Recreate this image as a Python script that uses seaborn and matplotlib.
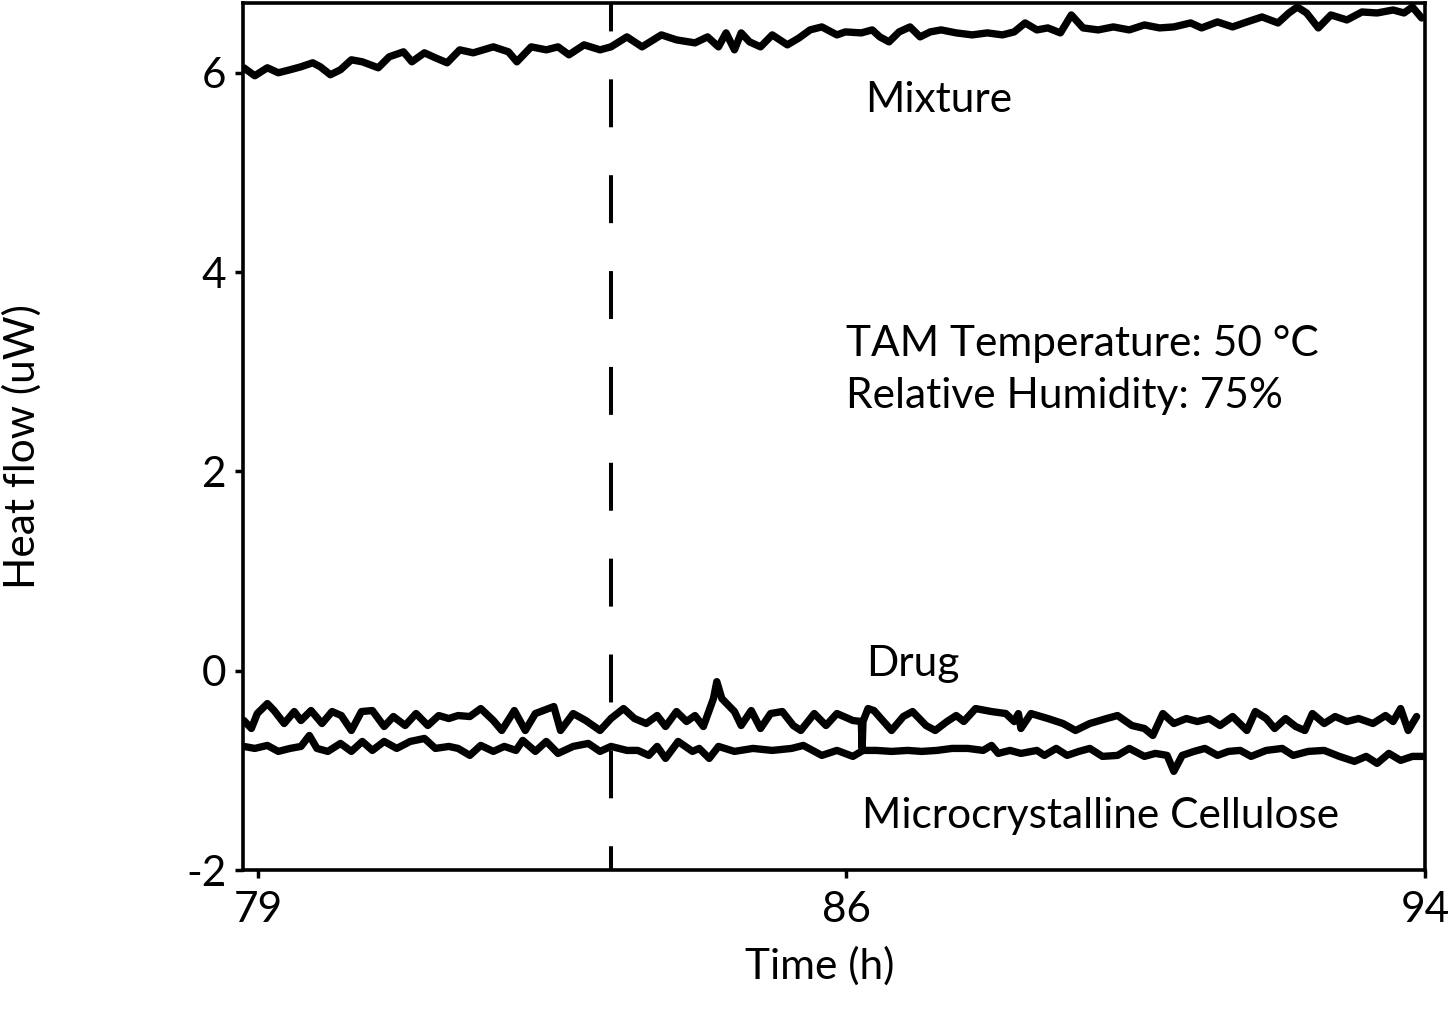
import matplotlib
matplotlib.use("Agg")
import matplotlib.pyplot as plt
import seaborn as sns
import pandas as pd

# ---------------- data ----------------
mix_t = [78.83, 78.96, 79.11, 79.24, 79.38, 79.51, 79.65, 79.74, 79.86, 79.98,
         80.11, 80.24, 80.43, 80.56, 80.73, 80.83, 80.98, 81.11, 81.25, 81.40,
         81.56, 81.80, 81.98, 82.08, 82.25, 82.43, 82.57, 82.70, 82.88, 83.07,
         83.20, 83.39, 83.57, 83.80, 83.98, 84.20, 84.35, 84.48, 84.57, 84.67,
         84.75, 84.85, 84.98, 85.12, 85.30, 85.44, 85.57, 85.71, 85.89, 85.99,
         86.18, 86.31, 86.40, 86.51, 86.63, 86.76, 86.88, 87.00, 87.13, 87.31,
         87.50, 87.68, 87.86, 88.00, 88.13, 88.27, 88.40, 88.55, 88.68, 88.82,
         89.00, 89.18, 89.37, 89.55, 89.73, 89.90, 90.10, 90.23, 90.42, 90.60,
         90.77, 90.95, 91.14, 91.27, 91.37, 91.48, 91.62, 91.77, 91.96, 92.14,
         92.32, 92.51, 92.64, 92.74, 92.85]
mix_v = [6.05, 5.97, 6.05, 6.00, 6.03, 6.06, 6.10, 6.06, 5.98, 6.03,
         6.13, 6.11, 6.05, 6.16, 6.21, 6.11, 6.20, 6.15, 6.10, 6.23,
         6.20, 6.26, 6.21, 6.11, 6.26, 6.23, 6.26, 6.18, 6.28, 6.23,
         6.26, 6.36, 6.26, 6.38, 6.33, 6.30, 6.36, 6.26, 6.40, 6.23,
         6.40, 6.31, 6.26, 6.38, 6.28, 6.35, 6.43, 6.46, 6.38, 6.41,
         6.40, 6.43, 6.36, 6.31, 6.41, 6.46, 6.36, 6.41, 6.43, 6.40,
         6.38, 6.40, 6.38, 6.41, 6.50, 6.43, 6.45, 6.40, 6.58, 6.45,
         6.43, 6.46, 6.43, 6.48, 6.45, 6.46, 6.50, 6.45, 6.51, 6.46,
         6.51, 6.56, 6.50, 6.60, 6.66, 6.60, 6.45, 6.58, 6.53, 6.61,
         6.60, 6.63, 6.60, 6.66, 6.55]

drug_t = [78.83, 78.92, 78.99, 79.11, 79.19, 79.31, 79.43, 79.51, 79.63, 79.76,
          79.88, 79.99, 80.11, 80.23, 80.36, 80.50, 80.61, 80.75, 80.88, 81.02,
          81.15, 81.27, 81.38, 81.52, 81.65, 81.80, 81.90, 82.05, 82.18, 82.30,
          82.52, 82.60, 82.75, 82.90, 83.07, 83.20, 83.35, 83.48, 83.62, 83.75,
          83.85, 83.98, 84.10, 84.20, 84.30, 84.42, 84.46, 84.52, 84.67, 84.75,
          84.87, 84.98, 85.10, 85.24, 85.37, 85.46, 85.62, 85.76, 85.89, 86.08,
          86.18, 86.19, 86.20, 86.26, 86.33, 86.54, 86.68, 86.79, 86.95, 87.06,
          87.20, 87.31, 87.40, 87.54, 87.73, 87.90, 88.00, 88.05, 88.08, 88.20,
          88.40, 88.58, 88.73, 88.90, 89.10, 89.23, 89.40, 89.55, 89.65, 89.77,
          89.90, 90.05, 90.18, 90.32, 90.45, 90.60, 90.77, 90.87, 91.00, 91.10,
          91.23, 91.35, 91.46, 91.55, 91.69, 91.82, 91.96, 92.10, 92.27, 92.42,
          92.51, 92.60, 92.69, 92.79]
drug_v = [-0.50, -0.58, -0.43, -0.33, -0.40, -0.53, -0.41, -0.50, -0.40, -0.53,
          -0.41, -0.45, -0.60, -0.41, -0.40, -0.56, -0.46, -0.55, -0.43, -0.55,
          -0.45, -0.48, -0.45, -0.46, -0.38, -0.50, -0.60, -0.40, -0.60, -0.43,
          -0.36, -0.60, -0.43, -0.50, -0.60, -0.48, -0.38, -0.48, -0.53, -0.45,
          -0.56, -0.41, -0.51, -0.45, -0.56, -0.28, -0.11, -0.28, -0.41, -0.55,
          -0.40, -0.58, -0.43, -0.41, -0.55, -0.60, -0.43, -0.55, -0.43, -0.50,
          -0.51, -0.78, -0.51, -0.38, -0.40, -0.60, -0.46, -0.41, -0.55, -0.60,
          -0.51, -0.45, -0.51, -0.38, -0.41, -0.43, -0.51, -0.43, -0.58, -0.43,
          -0.48, -0.53, -0.60, -0.53, -0.48, -0.45, -0.55, -0.58, -0.65, -0.43,
          -0.53, -0.48, -0.51, -0.48, -0.55, -0.46, -0.60, -0.41, -0.48, -0.58,
          -0.48, -0.56, -0.60, -0.43, -0.53, -0.46, -0.51, -0.48, -0.53, -0.45,
          -0.51, -0.38, -0.60, -0.46]

mcc_t = [78.83, 78.96, 79.11, 79.24, 79.38, 79.51, 79.61, 79.70, 79.83, 79.98,
         80.11, 80.24, 80.36, 80.50, 80.65, 80.81, 80.98, 81.11, 81.27, 81.38,
         81.52, 81.65, 81.80, 81.93, 82.07, 82.15, 82.30, 82.43, 82.57, 82.75,
         82.93, 83.07, 83.20, 83.39, 83.52, 83.65, 83.75, 83.85, 84.00, 84.17,
         84.25, 84.37, 84.48, 84.67, 84.89, 85.12, 85.35, 85.49, 85.71, 85.89,
         86.08, 86.20, 86.36, 86.54, 86.73, 86.90, 87.08, 87.26, 87.45, 87.63,
         87.73, 87.81, 87.95, 88.08, 88.27, 88.36, 88.50, 88.63, 88.77, 88.90,
         89.05, 89.23, 89.37, 89.55, 89.68, 89.82, 89.90, 90.00, 90.14, 90.27,
         90.42, 90.55, 90.69, 90.82, 91.00, 91.19, 91.32, 91.50, 91.69, 91.87,
         92.05, 92.19, 92.32, 92.46, 92.60, 92.74, 92.89]
mcc_v = [-0.76, -0.78, -0.75, -0.81, -0.78, -0.76, -0.65, -0.78, -0.81, -0.73,
         -0.81, -0.71, -0.80, -0.71, -0.78, -0.71, -0.68, -0.78, -0.76, -0.78,
         -0.85, -0.75, -0.81, -0.76, -0.80, -0.70, -0.81, -0.71, -0.83, -0.76,
         -0.73, -0.81, -0.76, -0.80, -0.80, -0.85, -0.76, -0.88, -0.71, -0.81,
         -0.78, -0.88, -0.76, -0.81, -0.78, -0.80, -0.78, -0.75, -0.85, -0.80,
         -0.86, -0.80, -0.80, -0.81, -0.80, -0.81, -0.80, -0.78, -0.78, -0.80,
         -0.75, -0.83, -0.80, -0.83, -0.80, -0.85, -0.78, -0.85, -0.81, -0.78,
         -0.86, -0.85, -0.78, -0.86, -0.83, -0.85, -1.01, -0.85, -0.81, -0.78,
         -0.85, -0.81, -0.80, -0.86, -0.80, -0.78, -0.85, -0.81, -0.80, -0.86,
         -0.91, -0.86, -0.93, -0.83, -0.90, -0.86, -0.86]

x_ticks = [79, 86, 92.89]
x_tick_labels = ["79", "86", "94"]
y_ticks = [-2, 0, 2, 4, 6]
marker_time = 83.2

labels = ["Mixture", "TAM Temperature: 50 °C", "Relative Humidity: 75%",
          "Drug", "Microcrystalline Cellulose"]
label_pos = [(86.23, 5.73), (86.0, 3.28), (86.0, 2.76), (86.24, 0.07), (86.19, -1.46)]

# ---------------- plot ----------------
sns.set_theme(style="ticks")
plt.rcParams["font.family"] = ["Lato", "DejaVu Sans"]
FS = 30.5

fig = plt.figure(figsize=(14.52, 10.16), dpi=100)
ax = fig.add_axes([243 / 1452, 1 - 870 / 1016, (1425 - 243) / 1452, (870 - 3) / 1016])

lw = 5.3
for t, v in [(mix_t, mix_v), (drug_t, drug_v), (mcc_t, mcc_v)]:
    df = pd.DataFrame({"t": t, "v": v})
    sns.lineplot(data=df, x="t", y="v", ax=ax, color="black", linewidth=lw,
                 sort=False, estimator=None, solid_joinstyle="round",
                 solid_capstyle="round")

ax.axvline(marker_time, color="black", linewidth=2.9,
           linestyle=(6.0, (11.9, 11.9)), zorder=1)

ax.set_xlim(78.82, 92.89)
ax.set_ylim(-2, 6.7)
ax.set_xticks(x_ticks)
ax.set_xticklabels(x_tick_labels)
ax.set_yticks(y_ticks)
ax.set_yticklabels([str(v) for v in y_ticks])

ax.set_xlabel("Time (h)", fontsize=FS, color="black")
ax.set_ylabel("Heat flow (uW)", fontsize=FS, color="black")
ax.xaxis.set_label_coords((820 - 243) / 1182, -(946 - 870) / 867)
ax.yaxis.set_label_coords(-(243 - 42) / 1182, (870 - 447) / 867)
ax.tick_params(axis="both", labelsize=FS, colors="black", width=2.5,
               length=6, direction="out")
ax.tick_params(axis="x", pad=9)
ax.tick_params(axis="y", pad=6)

for s in ax.spines.values():
    s.set_visible(True)
    s.set_linewidth(2.6)
    s.set_color("black")

for txt, (tx, ty) in zip(labels, label_pos):
    ax.text(tx, ty, txt, fontsize=FS, ha="left", va="center", color="black")

fig.savefig("out.png", dpi=100, facecolor="white")
